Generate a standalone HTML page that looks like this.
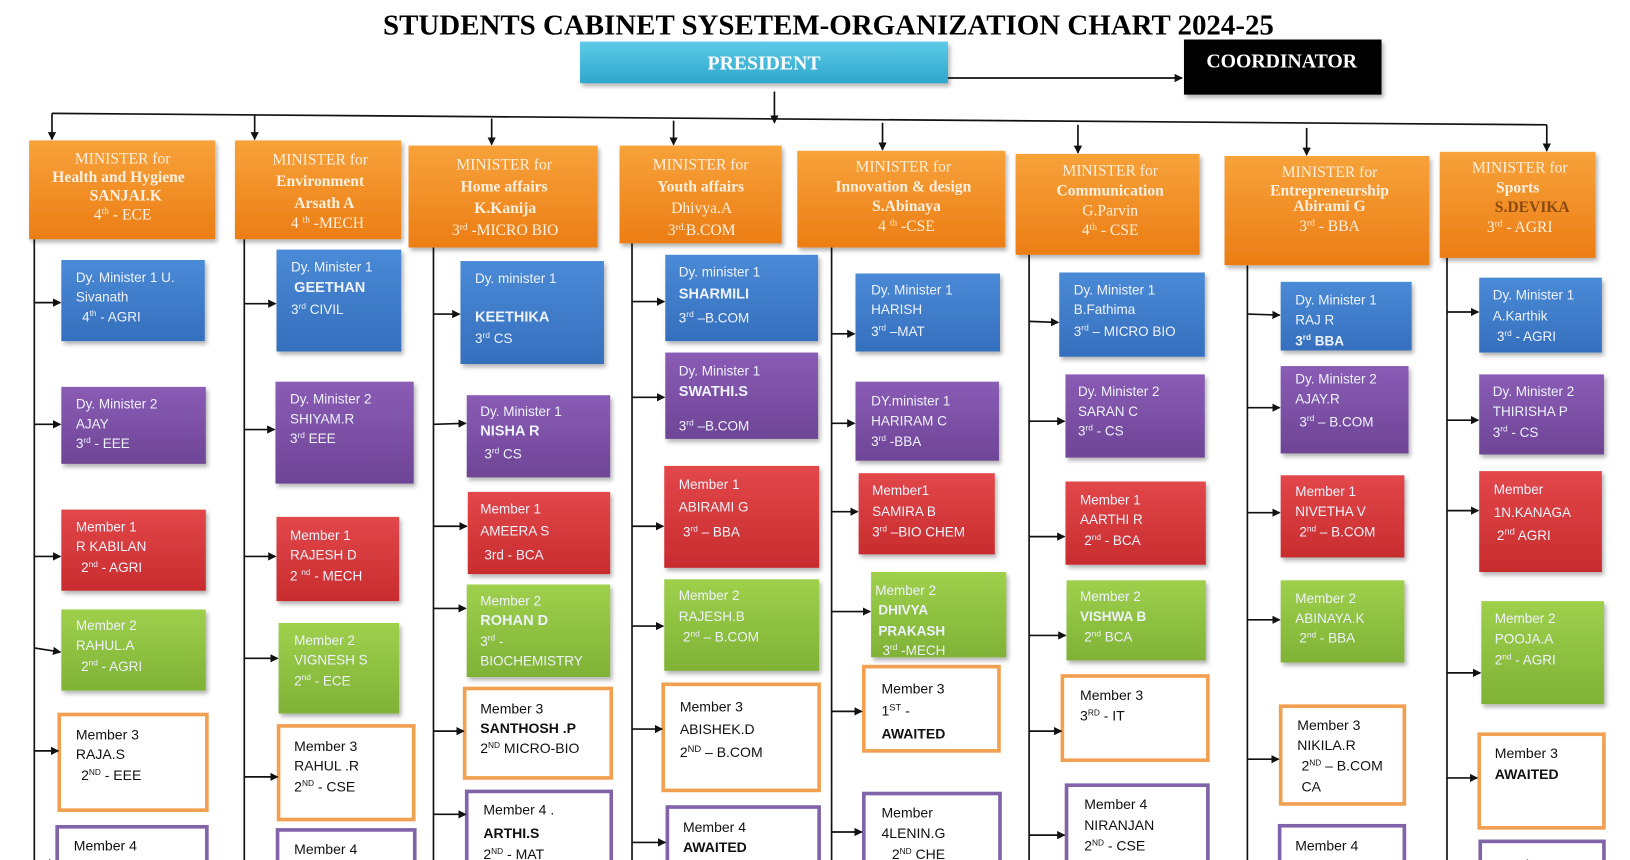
<!DOCTYPE html>
<html><head><meta charset="utf-8"><style>
html,body{margin:0;padding:0;background:#fff;width:1630px;height:860px;overflow:hidden}
svg{display:block}
.m{font-family:"Liberation Serif",serif;font-size:15px;fill:#fdf0e0;text-anchor:middle}
.b{font-weight:bold}
.c{font-family:"Liberation Sans",sans-serif;font-size:13px;fill:#eef2fb}
.k{font-family:"Liberation Sans",sans-serif;font-size:13.5px;fill:#111}
.ln{stroke:#111;stroke-width:1.6;fill:none}
</style></head><body>
<svg width="1630" height="860" viewBox="0 0 1630 860" xmlns="http://www.w3.org/2000/svg">
<defs>
<marker id="a" markerWidth="8" markerHeight="8" refX="7" refY="4" orient="auto" markerUnits="userSpaceOnUse"><path d="M0,0 L8,4 L0,8 z" fill="#111"/></marker>
<linearGradient id="or" x1="0" y1="0" x2="0" y2="1"><stop offset="0" stop-color="#f7a23a"/><stop offset="1" stop-color="#ec7d15"/></linearGradient>
<linearGradient id="bl" x1="0" y1="0" x2="0" y2="1"><stop offset="0" stop-color="#4a8ad6"/><stop offset="1" stop-color="#356fbd"/></linearGradient>
<linearGradient id="pu" x1="0" y1="0" x2="0" y2="1"><stop offset="0" stop-color="#8a5cb5"/><stop offset="1" stop-color="#6e4596"/></linearGradient>
<linearGradient id="re" x1="0" y1="0" x2="0" y2="1"><stop offset="0" stop-color="#e2474a"/><stop offset="1" stop-color="#c82c2e"/></linearGradient>
<linearGradient id="gr" x1="0" y1="0" x2="0" y2="1"><stop offset="0" stop-color="#9fd04c"/><stop offset="1" stop-color="#7fb236"/></linearGradient>
<linearGradient id="cy" x1="0" y1="0" x2="0" y2="1"><stop offset="0" stop-color="#5ccbe8"/><stop offset="1" stop-color="#2ea7cc"/></linearGradient>
<filter id="s" x="-5%" y="-5%" width="115%" height="120%"><feDropShadow dx="2" dy="3" stdDeviation="2" flood-color="#000" flood-opacity="0.3"/></filter>
</defs>
<g transform="scale(1.0395,1.04)">
<text x="797" y="33" text-anchor="middle" font-family="Liberation Serif,serif" font-weight="bold" font-size="27" textLength="857" lengthAdjust="spacingAndGlyphs" fill="#000">STUDENTS CABINET SYSETEM-ORGANIZATION CHART 2024-25</text>
<rect x="558" y="40" width="354" height="40" fill="url(#cy)" filter="url(#s)"/>
<text x="735" y="67" text-anchor="middle" font-family="Liberation Serif,serif" font-weight="bold" font-size="19" fill="#fff">PRESIDENT</text>
<rect x="1139" y="38" width="190" height="53" fill="#000" filter="url(#s)"/>
<text x="1233" y="65" text-anchor="middle" font-family="Liberation Serif,serif" font-weight="bold" font-size="19" fill="#fff">COORDINATOR</text>
<line class="ln" x1="912" y1="75" x2="1137" y2="75" marker-end="url(#a)"/>
<line class="ln" x1="745" y1="88" x2="745" y2="118" marker-end="url(#a)"/>
<line class="ln" x1="50" y1="109" x2="1488" y2="120"/>
<line class="ln" x1="50" y1="109" x2="50" y2="134" marker-end="url(#a)"/>
<line class="ln" x1="245" y1="110" x2="245" y2="134" marker-end="url(#a)"/>
<line class="ln" x1="473" y1="114" x2="473" y2="139" marker-end="url(#a)"/>
<line class="ln" x1="648" y1="116" x2="648" y2="139" marker-end="url(#a)"/>
<line class="ln" x1="849" y1="118" x2="849" y2="144" marker-end="url(#a)"/>
<line class="ln" x1="1037" y1="120" x2="1037" y2="147" marker-end="url(#a)"/>
<line class="ln" x1="1257" y1="123" x2="1257" y2="149" marker-end="url(#a)"/>
<line class="ln" x1="1488" y1="120" x2="1488" y2="145" marker-end="url(#a)"/>

<!-- column lines -->
<line class="ln" x1="33" y1="230" x2="33" y2="830"/>
<line class="ln" x1="235" y1="230" x2="235" y2="830"/>
<line class="ln" x1="417" y1="238" x2="417" y2="830"/>
<line class="ln" x1="608" y1="234" x2="608" y2="830"/>
<line class="ln" x1="800" y1="230" x2="800" y2="830"/>
<line class="ln" x1="990" y1="245" x2="990" y2="830"/>
<line class="ln" x1="1200" y1="255" x2="1200" y2="830"/>
<line class="ln" x1="1392" y1="248" x2="1392" y2="830"/>

<!-- ministers -->
<g filter="url(#s)">
<rect x="28" y="135" width="179" height="95" fill="url(#or)"/>
<rect x="226" y="135" width="160" height="95" fill="url(#or)"/>
<rect x="393" y="140" width="182" height="98" fill="url(#or)"/>
<rect x="596" y="140" width="156" height="94" fill="url(#or)"/>
<rect x="767" y="145" width="200" height="93" fill="url(#or)"/>
<rect x="977" y="148" width="177" height="97" fill="url(#or)"/>
<rect x="1178" y="150" width="197" height="105" fill="url(#or)"/>
<rect x="1385" y="146" width="150" height="102" fill="url(#or)"/>
</g>
<text class="m" x="118" y="157"><tspan>MINISTER for</tspan><tspan x="114" dy="18" class="b">Health and Hygiene</tspan><tspan x="121" dy="18" class="b">SANJAI.K</tspan><tspan x="118" dy="18">4<tspan font-size="9" dy="-5">th</tspan><tspan dy="5"> - ECE</tspan></tspan></text>
<text class="m" x="308" y="158"><tspan>MINISTER for</tspan><tspan x="308" dy="21" class="b">Environment</tspan><tspan x="312" dy="21" class="b">Arsath A</tspan><tspan x="315" dy="19">4 <tspan font-size="9" dy="-5">th</tspan><tspan dy="5"> -MECH</tspan></tspan></text>
<text class="m" x="485" y="163"><tspan>MINISTER for</tspan><tspan x="485" dy="21" class="b">Home affairs</tspan><tspan x="486" dy="21" class="b">K.Kanija</tspan><tspan x="486" dy="21">3<tspan font-size="9" dy="-5">rd</tspan><tspan dy="5"> -MICRO BIO</tspan></tspan></text>
<text class="m" x="674" y="163"><tspan>MINISTER for</tspan><tspan x="674" dy="21" class="b">Youth affairs</tspan><tspan x="675" dy="21">Dhivya.A</tspan><tspan x="675" dy="21">3<tspan font-size="9" dy="-5">rd.</tspan><tspan dy="5">B.COM</tspan></tspan></text>
<text class="m" x="869" y="165"><tspan>MINISTER for</tspan><tspan x="869" dy="19" class="b">Innovation &amp; design</tspan><tspan x="872" dy="19" class="b">S.Abinaya</tspan><tspan x="872" dy="19">4 <tspan font-size="9" dy="-5">th</tspan><tspan dy="5">  -CSE</tspan></tspan></text>
<text class="m" x="1068" y="169"><tspan>MINISTER for</tspan><tspan x="1068" dy="19" class="b">Communication</tspan><tspan x="1068" dy="19">G.Parvin</tspan><tspan x="1068" dy="19">4<tspan font-size="9" dy="-5">th</tspan><tspan dy="5"> - CSE</tspan></tspan></text>
<text class="m" x="1279" y="170"><tspan>MINISTER for</tspan><tspan x="1279" dy="18" class="b">Entrepreneurship</tspan><tspan x="1279" dy="15" class="b">Abirami G</tspan><tspan x="1279" dy="19">3<tspan font-size="9" dy="-5">rd</tspan><tspan dy="5"> - BBA</tspan></tspan></text>
<text class="m" x="1462" y="166"><tspan>MINISTER for</tspan><tspan x="1460" dy="19" class="b">Sports</tspan><tspan x="1474" dy="19" class="b" fill="#8a4a10">S.DEVIKA</tspan><tspan x="1462" dy="19">3<tspan font-size="9" dy="-5">rd</tspan><tspan dy="5"> - AGRI</tspan></tspan></text>

<!-- filled child boxes -->
<g filter="url(#s)">
<rect x="59" y="250" width="138" height="78" fill="url(#bl)"/>
<rect x="59" y="372" width="139" height="74" fill="url(#pu)"/>
<rect x="59" y="490" width="139" height="78" fill="url(#re)"/>
<rect x="59" y="586" width="139" height="78" fill="url(#gr)"/>
<rect x="266" y="240" width="120" height="98" fill="url(#bl)"/>
<rect x="265" y="367" width="133" height="98" fill="url(#pu)"/>
<rect x="266" y="497" width="118" height="81" fill="url(#re)"/>
<rect x="268" y="599" width="116" height="87" fill="url(#gr)"/>
<rect x="443" y="251" width="138" height="99" fill="url(#bl)"/>
<rect x="449" y="380" width="138" height="79" fill="url(#pu)"/>
<rect x="450" y="473" width="137" height="79" fill="url(#re)"/>
<rect x="449" y="562" width="138" height="89" fill="url(#gr)"/>
<rect x="640" y="245" width="147" height="83" fill="url(#bl)"/>
<rect x="640" y="339" width="147" height="83" fill="url(#pu)"/>
<rect x="639" y="448" width="149" height="98" fill="url(#re)"/>
<rect x="639" y="557" width="149" height="88" fill="url(#gr)"/>
<rect x="823" y="263" width="139" height="75" fill="url(#bl)"/>
<rect x="823" y="367" width="138" height="76" fill="url(#pu)"/>
<rect x="826" y="455" width="131" height="78" fill="url(#re)"/>
<rect x="838" y="550" width="130" height="82" fill="url(#gr)"/>
<rect x="1019" y="262" width="140" height="81" fill="url(#bl)"/>
<rect x="1025" y="360" width="134" height="80" fill="url(#pu)"/>
<rect x="1025" y="463" width="135" height="80" fill="url(#re)"/>
<rect x="1026" y="558" width="134" height="77" fill="url(#gr)"/>
<rect x="1232" y="271" width="126" height="66" fill="url(#bl)"/>
<rect x="1232" y="352" width="123" height="84" fill="url(#pu)"/>
<rect x="1232" y="457" width="119" height="79" fill="url(#re)"/>
<rect x="1232" y="558" width="119" height="79" fill="url(#gr)"/>
<rect x="1423" y="267" width="118" height="72" fill="url(#bl)"/>
<rect x="1423" y="360" width="120" height="77" fill="url(#pu)"/>
<rect x="1423" y="453" width="118" height="97" fill="url(#re)"/>
<rect x="1425" y="578" width="118" height="99" fill="url(#gr)"/>
</g>
<!-- outlined boxes -->
<g fill="#fff" stroke-width="3.5">
<rect x="57" y="687" width="142" height="92" stroke="#f0a050"/>
<rect x="55" y="795" width="144" height="60" stroke="#8063a8"/>
<rect x="268" y="698" width="130" height="90" stroke="#f0a050"/>
<rect x="267" y="798" width="132" height="60" stroke="#8063a8"/>
<rect x="447" y="662" width="141" height="86" stroke="#f0a050"/>
<rect x="449" y="761" width="139" height="90" stroke="#8063a8"/>
<rect x="638" y="658" width="150" height="102" stroke="#f0a050"/>
<rect x="642" y="776" width="146" height="80" stroke="#8063a8"/>
<rect x="831" y="641" width="130" height="81" stroke="#f0a050"/>
<rect x="831" y="763" width="131" height="90" stroke="#8063a8"/>
<rect x="1022" y="650" width="140" height="81" stroke="#f0a050"/>
<rect x="1026" y="755" width="136" height="90" stroke="#8063a8"/>
<rect x="1232" y="679" width="119" height="94" stroke="#f0a050"/>
<rect x="1231" y="794" width="120" height="60" stroke="#8063a8"/>
<rect x="1423" y="706" width="120" height="90" stroke="#f0a050"/>
<rect x="1424" y="809" width="119" height="50" stroke="#8063a8"/>
</g>

<!-- child arrows -->
<g class="ln" marker-end="url(#a)">
<line x1="33" y1="291" x2="58" y2="291"/><line x1="33" y1="408" x2="58" y2="408"/><line x1="33" y1="535" x2="58" y2="535"/><line x1="33" y1="623" x2="58" y2="627"/><line x1="33" y1="722" x2="56" y2="722"/><line x1="33" y1="830" x2="54" y2="830"/>
<line x1="235" y1="292" x2="265" y2="292"/><line x1="235" y1="413" x2="264" y2="413"/><line x1="235" y1="535" x2="265" y2="535"/><line x1="235" y1="633" x2="267" y2="633"/><line x1="235" y1="747" x2="267" y2="747"/>
<line x1="417" y1="302" x2="442" y2="302"/><line x1="417" y1="408" x2="448" y2="407"/><line x1="417" y1="506" x2="449" y2="506"/><line x1="417" y1="585" x2="448" y2="585"/><line x1="417" y1="703" x2="446" y2="703"/><line x1="417" y1="783" x2="448" y2="783"/>
<line x1="608" y1="290" x2="639" y2="290"/><line x1="608" y1="382" x2="639" y2="382"/><line x1="608" y1="506" x2="638" y2="506"/><line x1="608" y1="602" x2="638" y2="602"/><line x1="608" y1="701" x2="637" y2="701"/><line x1="608" y1="810" x2="640" y2="810"/>
<line x1="800" y1="321" x2="822" y2="321"/><line x1="800" y1="407" x2="822" y2="407"/><line x1="800" y1="492" x2="825" y2="492"/><line x1="800" y1="588" x2="837" y2="588"/><line x1="800" y1="684" x2="829" y2="684"/><line x1="800" y1="800" x2="829" y2="800"/>
<line x1="990" y1="309" x2="1018" y2="310"/><line x1="990" y1="405" x2="1024" y2="405"/><line x1="990" y1="516" x2="1024" y2="516"/><line x1="990" y1="611" x2="1025" y2="611"/><line x1="990" y1="703" x2="1021" y2="703"/><line x1="990" y1="803" x2="1024" y2="803"/>
<line x1="1200" y1="302" x2="1231" y2="303"/><line x1="1200" y1="392" x2="1231" y2="392"/><line x1="1200" y1="493" x2="1231" y2="493"/><line x1="1200" y1="596" x2="1231" y2="596"/><line x1="1200" y1="730" x2="1230" y2="730"/>
<line x1="1392" y1="300" x2="1422" y2="300"/><line x1="1392" y1="404" x2="1422" y2="404"/><line x1="1392" y1="491" x2="1422" y2="491"/><line x1="1392" y1="647" x2="1424" y2="647"/><line x1="1392" y1="748" x2="1421" y2="748"/>
</g>

<!-- child texts -->
<text class="c" x="73" y="271"><tspan>Dy. Minister 1 U.</tspan><tspan x="73" dy="19">Sivanath</tspan><tspan x="79" dy="19">4<tspan font-size="8" dy="-5">th</tspan><tspan dy="5"> - AGRI</tspan></tspan></text>
<text class="c" x="73" y="393"><tspan>Dy. Minister 2</tspan><tspan x="73" dy="19">AJAY</tspan><tspan x="73" dy="19">3<tspan font-size="8" dy="-5">rd</tspan><tspan dy="5"> - EEE</tspan></tspan></text>
<text class="c" x="73" y="511"><tspan>Member 1</tspan><tspan x="73" dy="19">R KABILAN</tspan><tspan x="78" dy="20">2<tspan font-size="8" dy="-5">nd</tspan><tspan dy="5"> - AGRI</tspan></tspan></text>
<text class="c" x="73" y="606"><tspan>Member 2</tspan><tspan x="73" dy="19">RAHUL.A</tspan><tspan x="78" dy="20">2<tspan font-size="8" dy="-5">nd</tspan><tspan dy="5"> - AGRI</tspan></tspan></text>
<text class="k" x="73" y="711"><tspan>Member 3</tspan><tspan x="73" dy="19">RAJA.S</tspan><tspan x="78" dy="20">2<tspan font-size="8" dy="-5">ND</tspan><tspan dy="5"> - EEE</tspan></tspan></text>
<text class="k" x="71" y="818">Member 4</text>

<text class="c" x="280" y="261"><tspan>Dy. Minister 1</tspan><tspan x="283" dy="20" class="b" font-size="14">GEETHAN</tspan><tspan x="280" dy="21">3<tspan font-size="8" dy="-5">rd</tspan><tspan dy="5"> CIVIL</tspan></tspan></text>
<text class="c" x="279" y="388"><tspan>Dy. Minister 2</tspan><tspan x="279" dy="19">SHIYAM.R</tspan><tspan x="279" dy="19">3<tspan font-size="8" dy="-5">rd</tspan><tspan dy="5"> EEE</tspan></tspan></text>
<text class="c" x="279" y="519"><tspan>Member 1</tspan><tspan x="279" dy="19">RAJESH  D</tspan><tspan x="279" dy="20">2 <tspan font-size="8" dy="-5">nd</tspan><tspan dy="5"> - MECH</tspan></tspan></text>
<text class="c" x="283" y="620"><tspan>Member 2</tspan><tspan x="283" dy="19">VIGNESH S</tspan><tspan x="283" dy="20">2<tspan font-size="8" dy="-5">nd</tspan><tspan dy="5"> - ECE</tspan></tspan></text>
<text class="k" x="283" y="722"><tspan>Member 3</tspan><tspan x="283" dy="19">RAHUL .R</tspan><tspan x="283" dy="20">2<tspan font-size="8" dy="-5">ND</tspan><tspan dy="5"> - CSE</tspan></tspan></text>
<text class="k" x="283" y="821">Member 4</text>

<text class="c" x="457" y="272"><tspan>Dy. minister 1</tspan><tspan x="457" dy="37" class="b" font-size="14">KEETHIKA</tspan><tspan x="457" dy="21">3<tspan font-size="8" dy="-5">rd</tspan><tspan dy="5"> CS</tspan></tspan></text>
<text class="c" x="462" y="400"><tspan>Dy. Minister 1</tspan><tspan x="462" dy="19" class="b" font-size="14">NISHA R</tspan><tspan x="466" dy="22">3<tspan font-size="8" dy="-5">rd</tspan><tspan dy="5"> CS</tspan></tspan></text>
<text class="c" x="462" y="494"><tspan>Member 1</tspan><tspan x="462" dy="21">AMEERA S</tspan><tspan x="466" dy="23">3rd  - BCA</tspan></text>
<text class="c" x="462" y="582"><tspan>Member 2</tspan><tspan x="462" dy="19" class="b" font-size="14">ROHAN D</tspan><tspan x="462" dy="20">3<tspan font-size="8" dy="-5">rd</tspan><tspan dy="5"> -</tspan></tspan><tspan x="462" dy="19">BIOCHEMISTRY</tspan></text>
<text class="k" x="462" y="686"><tspan>Member 3</tspan><tspan x="462" dy="19" class="b">SANTHOSH .P</tspan><tspan x="462" dy="19">2<tspan font-size="8" dy="-5">ND</tspan><tspan dy="5">  MICRO-BIO</tspan></tspan></text>
<text class="k" x="465" y="783"><tspan>Member 4  .</tspan><tspan x="465" dy="23" class="b">ARTHI.S</tspan><tspan x="465" dy="20">2<tspan font-size="8" dy="-5">ND</tspan><tspan dy="5"> - MAT</tspan></tspan></text>

<text class="c" x="653" y="266"><tspan>Dy. minister 1</tspan><tspan x="653" dy="21" class="b" font-size="14">SHARMILI</tspan><tspan x="653" dy="23">3<tspan font-size="8" dy="-5">rd</tspan><tspan dy="5"> –B.COM</tspan></tspan></text>
<text class="c" x="653" y="361"><tspan>Dy. Minister 1</tspan><tspan x="653" dy="20" class="b" font-size="14">SWATHI.S</tspan><tspan x="653" dy="33">3<tspan font-size="8" dy="-5">rd</tspan><tspan dy="5"> –B.COM</tspan></tspan></text>
<text class="c" x="653" y="470"><tspan>Member 1</tspan><tspan x="653" dy="22">ABIRAMI G</tspan><tspan x="657" dy="24">3<tspan font-size="8" dy="-5">rd</tspan><tspan dy="5">  – BBA</tspan></tspan></text>
<text class="c" x="653" y="577"><tspan>Member 2</tspan><tspan x="653" dy="20">RAJESH.B</tspan><tspan x="657" dy="20">2<tspan font-size="8" dy="-5">nd</tspan><tspan dy="5"> – B.COM</tspan></tspan></text>
<text class="k" x="654" y="684" font-size="15"><tspan>Member 3</tspan><tspan x="654" dy="22">ABISHEK.D</tspan><tspan x="654" dy="22">2<tspan font-size="9" dy="-5">ND</tspan><tspan dy="5"> – B.COM</tspan></tspan></text>
<text class="k" x="657" y="800"><tspan>Member 4</tspan><tspan x="657" dy="19" class="b">AWAITED</tspan></text>

<text class="c" x="838" y="283"><tspan>Dy. Minister 1</tspan><tspan x="838" dy="19">HARISH</tspan><tspan x="838" dy="21">3<tspan font-size="8" dy="-5">rd</tspan><tspan dy="5"> –MAT</tspan></tspan></text>
<text class="c" x="838" y="390"><tspan>DY.minister 1</tspan><tspan x="838" dy="19">HARIRAM C</tspan><tspan x="838" dy="20">3<tspan font-size="8" dy="-5">rd</tspan><tspan dy="5"> -BBA</tspan></tspan></text>
<text class="c" x="839" y="476"><tspan>Member1</tspan><tspan x="839" dy="20">SAMIRA B</tspan><tspan x="839" dy="20">3<tspan font-size="8" dy="-5">rd</tspan><tspan dy="5"> –BIO CHEM</tspan></tspan></text>
<text class="c" x="842" y="572"><tspan>Member 2</tspan><tspan x="845" dy="19" class="b">DHIVYA</tspan><tspan x="845" dy="20" class="b">PRAKASH</tspan><tspan x="849" dy="19">3<tspan font-size="8" dy="-5">rd</tspan><tspan dy="5"> -MECH</tspan></tspan></text>
<text class="k" x="848" y="667" font-size="15"><tspan>Member 3</tspan><tspan x="848" dy="21">1<tspan font-size="9" dy="-5">ST</tspan><tspan dy="5">  -</tspan></tspan><tspan x="848" dy="22" class="b">AWAITED</tspan></text>
<text class="k" x="848" y="786"><tspan>Member</tspan><tspan x="848" dy="20">4LENIN.G</tspan><tspan x="858" dy="20">2<tspan font-size="8" dy="-5">ND</tspan><tspan dy="5"> CHE</tspan></tspan></text>

<text class="c" x="1033" y="283"><tspan>Dy. Minister 1</tspan><tspan x="1033" dy="19">B.Fathima</tspan><tspan x="1033" dy="21">3<tspan font-size="8" dy="-5">rd</tspan><tspan dy="5"> – MICRO BIO</tspan></tspan></text>
<text class="c" x="1037" y="381"><tspan>Dy. Minister 2</tspan><tspan x="1037" dy="19">SARAN C</tspan><tspan x="1037" dy="19">3<tspan font-size="8" dy="-5">rd</tspan><tspan dy="5"> - CS</tspan></tspan></text>
<text class="c" x="1039" y="485"><tspan>Member 1</tspan><tspan x="1039" dy="19">AARTHI R</tspan><tspan x="1043" dy="20">2<tspan font-size="8" dy="-5">nd</tspan><tspan dy="5"> - BCA</tspan></tspan></text>
<text class="c" x="1039" y="578"><tspan>Member 2</tspan><tspan x="1039" dy="19" class="b">VISHWA B</tspan><tspan x="1043" dy="20">2<tspan font-size="8" dy="-5">nd</tspan><tspan dy="5"> BCA</tspan></tspan></text>
<text class="k" x="1039" y="673"><tspan>Member 3</tspan><tspan x="1039" dy="20">3<tspan font-size="8" dy="-5">RD</tspan><tspan dy="5"> - IT</tspan></tspan></text>
<text class="k" x="1043" y="778"><tspan>Member 4</tspan><tspan x="1043" dy="20">NIRANJAN</tspan><tspan x="1043" dy="20">2<tspan font-size="8" dy="-5">ND</tspan><tspan dy="5"> - CSE</tspan></tspan></text>

<text class="c" x="1246" y="293"><tspan>Dy. Minister 1</tspan><tspan x="1246" dy="19">RAJ R</tspan><tspan x="1246" dy="20" class="b">3<tspan font-size="8" dy="-5">rd</tspan><tspan dy="5"> BBA</tspan></tspan></text>
<text class="c" x="1246" y="369"><tspan>Dy. Minister 2</tspan><tspan x="1246" dy="19">AJAY.R</tspan><tspan x="1250" dy="22">3<tspan font-size="8" dy="-5">rd</tspan><tspan dy="5"> – B.COM</tspan></tspan></text>
<text class="c" x="1246" y="477"><tspan>Member 1</tspan><tspan x="1246" dy="19">NIVETHA V</tspan><tspan x="1250" dy="20">2<tspan font-size="8" dy="-5">nd</tspan><tspan dy="5"> – B.COM</tspan></tspan></text>
<text class="c" x="1246" y="580"><tspan>Member 2</tspan><tspan x="1246" dy="19">ABINAYA.K</tspan><tspan x="1250" dy="19">2<tspan font-size="8" dy="-5">nd</tspan><tspan dy="5">  -  BBA</tspan></tspan></text>
<text class="k" x="1248" y="702"><tspan>Member 3</tspan><tspan x="1248" dy="19">NIKILA.R</tspan><tspan x="1252" dy="20">2<tspan font-size="8" dy="-5">ND</tspan><tspan dy="5"> – B.COM</tspan></tspan><tspan x="1252" dy="20">CA</tspan></text>
<text class="k" x="1246" y="818">Member 4</text>

<text class="c" x="1436" y="288"><tspan>Dy. Minister 1</tspan><tspan x="1436" dy="20">A.Karthik</tspan><tspan x="1440" dy="20">3<tspan font-size="8" dy="-5">rd</tspan><tspan dy="5"> - AGRI</tspan></tspan></text>
<text class="c" x="1436" y="381"><tspan>Dy. Minister 2</tspan><tspan x="1436" dy="19">THIRISHA P</tspan><tspan x="1436" dy="20">3<tspan font-size="8" dy="-5">rd</tspan><tspan dy="5"> - CS</tspan></tspan></text>
<text class="c" x="1437" y="475" font-size="15"><tspan>Member</tspan><tspan x="1437" dy="22">1N.KANAGA</tspan><tspan x="1440" dy="22">2<tspan font-size="9" dy="-5">nd</tspan><tspan dy="5"> AGRI</tspan></tspan></text>
<text class="c" x="1438" y="599"><tspan>Member 2</tspan><tspan x="1438" dy="20">POOJA.A</tspan><tspan x="1438" dy="20">2<tspan font-size="8" dy="-5">nd</tspan><tspan dy="5"> - AGRI</tspan></tspan></text>
<text class="k" x="1438" y="729"><tspan>Member 3</tspan><tspan x="1438" dy="20" class="b">AWAITED</tspan></text>
<text class="k" x="1438" y="836">Member 4</text>
</g>
</svg>
</body></html>
